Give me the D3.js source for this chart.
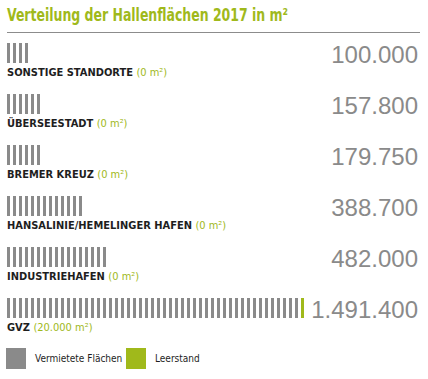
<!DOCTYPE html>
<html><head><meta charset="utf-8">
<script src="https://cdn.jsdelivr.net/npm/d3@7"></script>
<style>
html,body{margin:0;padding:0;background:#fff;}
svg{display:block;}
</style></head>
<body><svg id="chart" width="428" height="379"></svg>
<script>
const title = "Verteilung der Hallenflächen 2017 in m²";
const categories = ["SONSTIGE STANDORTE","ÜBERSEESTADT","BREMER KREUZ","HANSALINIE/HEMELINGER HAFEN","INDUSTRIEHAFEN","GVZ"];
const totalArea = [100000,157800,179750,388700,482000,1491400];
const vacantArea = [0,0,0,0,0,20000];
const unitPerBar = 30000;
const legendLabels = ["Vermietete Flächen","Leerstand"];

const GREY = "#8a8a8a", GREEN = "#a0b91b", TXT = "#1e1e1e";
const loc = d3.formatLocale({decimal:",", thousands:".", grouping:[3], currency:["","€"]});
const fmt = loc.format(",d");

const svg = d3.select("#chart");
const W = 428;

// title
svg.append("text").attr("x",7).attr("y",21)
  .attr("font-family","'Liberation Sans Narrow','DejaVu Sans Condensed',Roboto,sans-serif")
  .attr("font-weight","bold").attr("font-size",17).attr("fill",GREEN)
  .text(title).call(fit, 281);
svg.append("line").attr("x1",7).attr("x2",420).attr("y1",32.5).attr("y2",32.5)
  .attr("stroke","#8c8c8c").attr("stroke-width",1);

const y = d3.scaleBand().domain(categories).range([43, 43+51*categories.length]).paddingInner(0);
const x = d3.scaleLinear().domain([0,1500000]).range([7,307]);
const barH = 20, barW = 3;

const rows = svg.selectAll("g.row").data(categories.map((c,i)=>({c, total:totalArea[i], vac:vacantArea[i]})))
  .join("g").attr("class","row").attr("transform",d=>`translate(0,${y(d.c)})`);

rows.each(function(d){
  const g = d3.select(this);
  const n = Math.ceil(d.total/unitPerBar);
  const nGreen = Math.ceil(d.vac/unitPerBar);
  const bars = d3.range(n).map(i=>({i, green: i >= n-nGreen}));
  g.selectAll("rect").data(bars).join("rect")
    .attr("x",b=>x(b.i*unitPerBar)).attr("y",0).attr("width",barW).attr("height",barH)
    .attr("fill",b=>b.green?GREEN:GREY);
  // value
  g.append("text").attr("x",418).attr("y",barH).attr("text-anchor","end")
    .attr("font-family","'Liberation Sans',Arial,sans-serif").attr("font-size",24)
    .attr("fill",GREY).text(fmt(d.total));
  // label
  const t = g.append("text").attr("x",7).attr("y",barH+13)
    .attr("font-family","'Liberation Sans Narrow','DejaVu Sans Condensed',Roboto,sans-serif")
    .attr("font-size",11).attr("font-weight","bold").attr("fill",TXT);
  t.append("tspan").text(d.c+" ");
  t.append("tspan").attr("fill",GREEN).attr("font-weight","normal").text("("+fmt(d.vac)+" m²)");
});

// legend
const leg = svg.append("g").attr("transform","translate(6,348)");
legendLabels.forEach((l,i)=>{
  const lg = leg.append("g").attr("transform",`translate(${i*120},0)`);
  lg.append("rect").attr("width",20).attr("height",21).attr("fill",i?GREEN:GREY);
  lg.append("text").attr("x",29).attr("y",14).attr("font-size",10)
    .attr("font-family","'Liberation Sans Narrow','DejaVu Sans Condensed',Roboto,sans-serif")
    .attr("fill",TXT).text(l);
});

function fit(sel, w){
  const node = sel.node();
  const len = node.getComputedTextLength();
  if (Math.abs(len-w) > 3) sel.attr("textLength",w).attr("lengthAdjust","spacingAndGlyphs");
}
</script></body></html>
